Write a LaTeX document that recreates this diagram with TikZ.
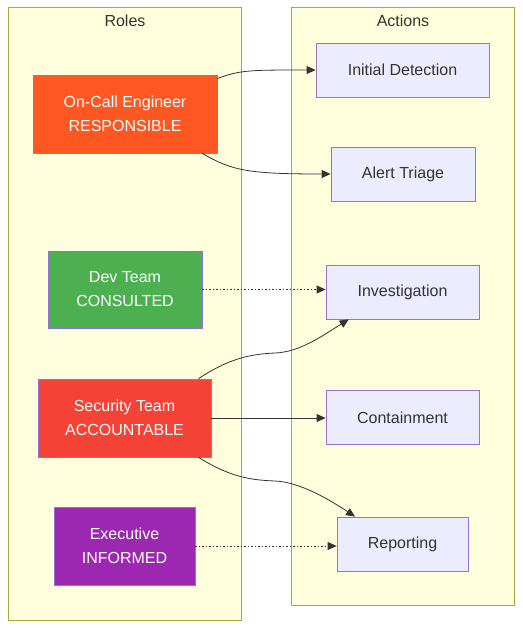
\documentclass[tikz,border=0pt]{standalone}
\usepackage{fontspec}
\setmainfont{Liberation Sans}
\usetikzlibrary{arrows.meta}
\definecolor{lanefill}{HTML}{FFFFDE}
\definecolor{laneline}{HTML}{AAAA33}
\definecolor{boxfill}{HTML}{ECECFF}
\definecolor{boxline}{HTML}{9370DB}
\definecolor{respred}{HTML}{FF5722}
\definecolor{consgreen}{HTML}{4CAF50}
\definecolor{accred}{HTML}{F44336}
\definecolor{infpurple}{HTML}{9C27B0}
\definecolor{darkgray}{HTML}{333333}
\tikzset{
 lane/.style={draw=laneline,fill=lanefill,line width=1pt},
 lanetitle/.style={text=darkgray,inner sep=0pt,font=\fontsize{16}{18}\selectfont},
 rolebox/.style={draw=boxline,line width=0.8pt,text=white,align=center,inner sep=0pt,
  font=\fontsize{16}{24}\selectfont},
 actbox/.style={draw=boxline,fill=boxfill,line width=0.8pt,text=darkgray,inner sep=0pt,
  minimum height=54pt,font=\fontsize{16}{18}\selectfont},
 flow/.style={draw=darkgray,line width=0.8pt,-{Triangle[length=9pt,width=8pt]}},
 dotflow/.style={flow,dash pattern=on 1.5pt off 2pt}
}
\begin{document}
\begin{tikzpicture}[x=1pt,y=-1pt]
\useasboundingbox[fill=white] (0,0) rectangle (522,628);
% swimlanes
\draw[lane] (8,8) rectangle (241,620);
\draw[lane] (291,8) rectangle (514,605);
\node[lanetitle] (rolestitle) at (125,21) {Roles};
\node[lanetitle] (actstitle) at (403,21) {Actions};
% roles
\node[rolebox,fill=respred,minimum width=184pt,minimum height=78pt] (oncall) at (125,114)
 {On-Call Engineer\\RESPONSIBLE};
\node[rolebox,fill=consgreen,minimum width=154pt,minimum height=77pt] (dev) at (125,289.5)
 {Dev Team\\CONSULTED};
\node[rolebox,fill=accred,minimum width=173pt,minimum height=78pt] (security) at (124.5,418)
 {Security Team\\ACCOUNTABLE};
\node[rolebox,fill=infpurple,minimum width=141pt,minimum height=78pt] (exec) at (124.5,546)
 {Executive\\INFORMED};
% actions
\node[actbox,minimum width=173pt] (detect) at (402.5,70) {Initial Detection};
\node[actbox,minimum width=144pt] (triage) at (403,174) {Alert Triage};
\node[actbox,minimum width=153pt] (invest) at (402.5,292) {Investigation};
\node[actbox,minimum width=153pt] (contain) at (402.5,417.5) {Containment};
\node[actbox,minimum width=131pt] (report) at (402.5,544) {Reporting};
% links
\draw[flow] (oncall.21) .. controls (240,70) and (250,70) .. (detect.west);
\draw[flow] (oncall.-27.5) .. controls (232,171) and (250,174) .. (triage.west);
\draw[dotflow] (dev.east) -- (dev.east -| invest.west);
\draw[flow] (security.28.6) .. controls (228,359) and (250,354) .. (275,353)
 .. controls (300,352) and (322,336) .. (invest.207);
\draw[flow] (security.east) -- (security.east -| contain.west);
\draw[flow] (security.-28) .. controls (230,477) and (250,480) .. (275,481)
 .. controls (300,482) and (330,500) .. (report.150);
\draw[dotflow] (exec.east) -- (exec.east -| report.west);
\end{tikzpicture}
\end{document}
